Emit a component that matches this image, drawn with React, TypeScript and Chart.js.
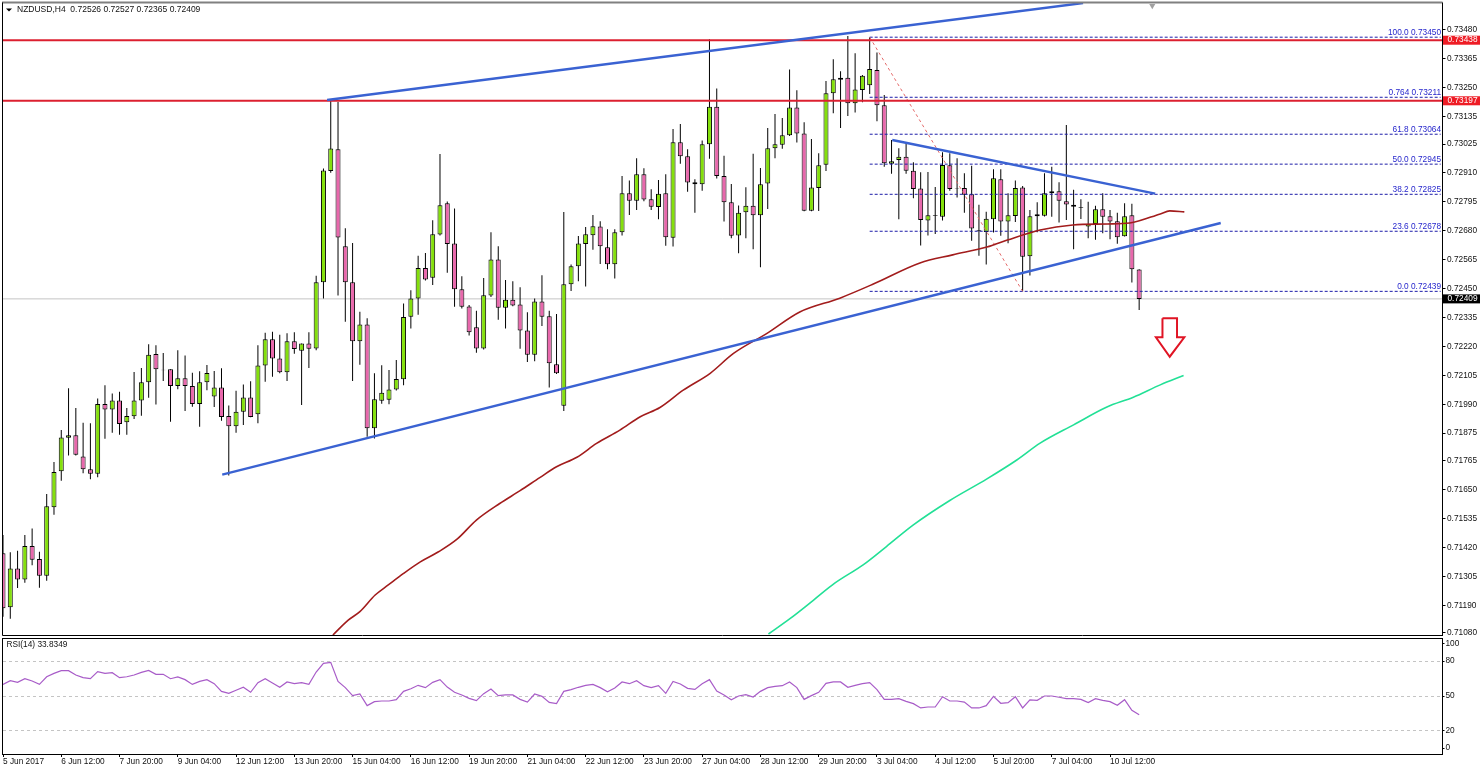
import { useEffect, useRef } from "react";
import { Chart, registerables } from "chart.js";

Chart.register(...registerables);

// prices are kept in points (1/100000), one entry per H4 bar
const opens = [
  71397, 71182, 71337, 71293, 71426, 71374, 71308, 71580, 71723, 71857,
  71867, 71782, 71731, 71713, 71991, 71969, 72005, 71918, 71942, 72005,
  72077, 72190, 72127, 72129, 72062, 72093, 72062, 71991, 72077, 72021,
  72057, 71943, 71902, 71960, 72017, 71950, 72144, 72248, 72172, 72117,
  72240, 72203, 72232, 72212, 72475, 72918, 73004, 72618, 72475, 72240,
  72307, 71894, 72004, 72008, 72049, 72089, 72338, 72411, 72532, 72493,
  72665, 72789, 72629, 72447, 72379, 72296, 72212, 72422, 72566, 72374,
  72406, 72387, 72283, 72187, 72399, 72340, 72149, 71984, 72467, 72539,
  72627, 72662, 72697, 72614, 72547, 72674, 72829, 72799, 72905, 72805,
  72775, 72829, 72652, 73032, 72976, 72873, 72865, 73024, 73173, 72898,
  72793, 72661, 72754, 72779, 72742, 72868, 73008, 73022, 73060, 73170,
  73067, 72760, 72850, 72943, 73227, 73281, 73289, 73187, 73240, 73259,
  73319, 73179, 72947, 72961, 72974, 72919, 72848, 72721, 72742, 72736,
  72941, 72850, 72850, 72825, 72682, 72675, 72726, 72885, 72717, 72739,
  72852, 72579, 72738, 72740, 72829, 72837, 72797, 72783, 72775, 72697,
  72707, 72766, 72738, 72718, 72658, 72742, 72526,
];
const highs = [
  71470, 71401, 71407, 71470, 71496, 71403, 71633, 71760, 71887, 72054,
  71975, 71916, 71914, 72013, 72065, 72033, 72040, 71975, 72118, 72134,
  72229, 72225, 72194, 72129, 72205, 72184, 72115, 72121, 72146, 72122,
  72133, 71985, 72044, 72068, 72081, 72225, 72274, 72278, 72266, 72272,
  72276, 72232, 72276, 72501, 72928, 73198, 73192, 72690, 72631, 72358,
  72332, 72113, 72145, 72126, 72166, 72391, 72443, 72581, 72592, 72722,
  72985, 72796, 72769, 72499, 72385, 72362, 72492, 72674, 72618, 72484,
  72479, 72455, 72356, 72411, 72503, 72362, 72349, 72755, 72546, 72659,
  72695, 72743, 72718, 72686, 72686, 72898, 72880, 72968, 72929, 72845,
  72882, 72905, 73085, 73105, 73004, 72885, 73039, 73442, 73246, 72978,
  72866, 72780, 72853, 72986, 72930, 73089, 73144, 73129, 73321, 73239,
  73112, 73045, 72988, 73276, 73362, 73315, 73455, 73386, 73300, 73450,
  73389, 73220, 73041, 73008, 73028, 72953, 72913, 72914, 72854, 72992,
  72988, 72968, 72909, 72939, 72783, 72756, 72925, 72925, 72829, 72880,
  72858, 72763, 72793, 72909, 72935, 72873, 73101, 72843, 72805, 72795,
  72779, 72829, 72763, 72752, 72789, 72787, 72527,
];
const lows = [
  71145, 71137, 71259, 71280, 71349, 71260, 71288, 71550, 71686, 71786,
  71786, 71715, 71692, 71700, 71853, 71877, 71869, 71869, 71931, 71944,
  72016, 71989, 72082, 71920, 72050, 71963, 71980, 71900, 72046, 71979,
  71924, 71706, 71877, 71907, 71938, 71914, 72079, 72099, 72113, 72082,
  72191, 71987, 72134, 72205, 72411, 72911, 72422, 72318, 72082, 72147,
  71861, 71854, 71992, 71990, 72045, 72065, 72291, 72346, 72482, 72464,
  72661, 72513, 72378, 72371, 72263, 72195, 72208, 72417, 72326, 72291,
  72380, 72211, 72158, 72161, 72301, 72057, 72110, 71963, 72440, 72479,
  72458, 72604, 72548, 72527, 72490, 72661, 72743, 72763, 72797, 72763,
  72726, 72620, 72617, 72947, 72835, 72752, 72839, 72966, 72888, 72717,
  72650, 72591, 72650, 72606, 72535, 72767, 72968, 73006, 73057, 73031,
  72758, 72758, 72759, 72918, 73147, 73089, 73137, 73150, 73191, 73224,
  73116, 72935, 72907, 72726, 72907, 72809, 72621, 72661, 72667, 72721,
  72839, 72812, 72752, 72640, 72581, 72546, 72673, 72660, 72630, 72715,
  72439, 72502, 72674, 72737, 72736, 72713, 72723, 72606, 72727, 72650,
  72644, 72670, 72646, 72628, 72657, 72474, 72365,
];
const closes = [
  71178, 71337, 71293, 71426, 71371, 71308, 71584, 71720, 71858, 71867,
  71789, 71731, 71713, 71991, 71969, 72005, 71911, 71943, 72005, 72077,
  72187, 72129, 72125, 72062, 72093, 72062, 71991, 72077, 72114, 72057,
  71939, 71902, 71960, 72017, 71939, 72144, 72248, 72172, 72117, 72240,
  72210, 72232, 72211, 72475, 72920, 73007, 72653, 72475, 72240, 72307,
  71894, 72010, 72036, 72049, 72090, 72337, 72411, 72532, 72486, 72666,
  72781, 72627, 72447, 72378, 72276, 72212, 72423, 72566, 72374, 72406,
  72383, 72283, 72187, 72399, 72338, 72153, 72113, 72467, 72539, 72629,
  72666, 72698, 72618, 72547, 72674, 72829, 72799, 72905, 72804, 72776,
  72827, 72654, 73032, 72976, 72872, 72865, 73024, 73173, 72898, 72793,
  72660, 72752, 72779, 72742, 72865, 73008, 73024, 73060, 73170, 73067,
  72760, 72852, 72941, 73227, 73283, 73289, 73187, 73242, 73297, 73323,
  73179, 72949, 72957, 72974, 72919, 72846, 72723, 72742, 72739, 72942,
  72846, 72848, 72823, 72689, 72678, 72728, 72889, 72717, 72742, 72850,
  72577, 72738, 72746, 72829, 72837, 72799, 72784, 72776, 72772, 72707,
  72766, 72736, 72717, 72654, 72738, 72527, 72409,
];

const rsiValues = [
  60.0, 63.2, 61.8, 64.9, 62.9, 60.0, 66.6, 69.5, 71.8, 71.8,
  68.1, 65.8, 64.9, 71.0, 69.5, 70.1, 65.8, 66.6, 68.1, 70.4,
  72.1, 68.7, 68.7, 64.9, 66.4, 64.1, 60.0, 62.6, 64.1, 60.6,
  54.0, 52.3, 54.9, 57.5, 53.2, 61.5, 64.9, 61.2, 57.5, 62.1,
  60.6, 61.5, 60.0, 70.7, 78.1, 79.0, 62.6, 57.2, 50.3, 51.7,
  41.7, 45.1, 45.7, 45.7, 46.8, 54.0, 56.3, 59.2, 57.2, 61.8,
  64.1, 57.7, 53.2, 50.9, 48.0, 46.0, 52.0, 56.0, 50.3, 50.9,
  50.9, 47.1, 44.8, 51.7, 49.7, 44.5, 43.4, 54.0, 55.5, 57.5,
  59.2, 60.0, 57.2, 53.7, 56.9, 62.1, 60.6, 63.2, 58.9, 57.2,
  58.9, 52.3, 62.6, 60.3, 56.6, 55.7, 60.6, 64.1, 54.3, 50.9,
  46.8, 50.0, 51.1, 49.1, 54.0, 57.2, 58.3, 58.9, 62.1, 57.2,
  47.1, 50.3, 53.2, 60.9, 62.1, 62.1, 57.5, 59.2, 60.6, 61.5,
  55.5, 47.1, 47.1, 47.7, 45.4, 43.4, 39.7, 40.5, 40.5, 49.4,
  45.7, 45.7, 44.8, 39.7, 39.7, 41.7, 49.7, 43.7, 44.3, 49.4,
  39.7, 46.6, 46.3, 50.0, 50.0, 48.9, 47.7, 47.7, 47.1, 44.3,
  47.7, 46.3, 45.1, 42.0, 46.8, 37.7, 33.83,
];

// moving averages, read as bar position + price
const slowMaBars = [
  45.3, 47.4, 49, 51.1, 52.9, 55, 57.3, 59.8, 62.3, 65, 68.2, 71, 73.7, 76, 78.8, 81.5, 84.7, 87.5,
  90.2, 93.4, 97.1, 100.3, 104.9, 109.4, 114.9, 119.5, 125.9, 130.4, 135.1, 137.9, 142.4, 146.9,
  151.6, 154.7, 158.9, 160.2, 162.2,
];
const slowMaValues = [
  71072, 71131, 71165, 71231, 71271, 71317, 71363, 71403, 71452, 71529, 71595, 71646, 71698, 71741,
  71779, 71834, 71887, 71940, 71977, 72046, 72113, 72192, 72272, 72357, 72412, 72468, 72552, 72584,
  72615, 72643, 72683, 72703, 72707, 72711, 72747, 72759, 72755,
];
const greenMaBars = [105.1, 108.1, 111.3, 114.2, 118.1, 121.3, 125, 130, 135.1, 139.2, 142.4, 147, 151.5, 155.2, 158.9, 162.1];
const greenMaValues = [71076, 71138, 71211, 71278, 71351, 71424, 71510, 71607, 71693, 71768, 71835, 71908, 71978, 72018, 72067, 72104];

const priceTicks = [
  73480, 73365, 73250, 73135, 73025, 72910, 72795, 72680, 72565, 72450, 72335,
  72220, 72105, 71990, 71875, 71765, 71650, 71535, 71420, 71305, 71190, 71080,
];
const timeLabels = [
  "5 Jun 2017", "6 Jun 12:00", "7 Jun 20:00", "9 Jun 04:00", "12 Jun 12:00", "13 Jun 20:00", "15 Jun 04:00",
  "16 Jun 12:00", "19 Jun 20:00", "21 Jun 04:00", "22 Jun 12:00", "23 Jun 20:00", "27 Jun 04:00", "28 Jun 12:00",
  "29 Jun 20:00", "3 Jul 04:00", "4 Jul 12:00", "5 Jul 20:00", "7 Jul 04:00", "10 Jul 12:00",
];
const rsiTicks = [95, 80, 50, 20, 5];
const rsiTickLabels = ["100", "80", "50", "20", "0"];
const rsiLevels = [80, 50, 20];

const fibNames = ["100.0", "0.764", "61.8", "50.0", "38.2", "23.6", "0.0"];
const fibValues = [73450, 73211, 73064, 72945, 72825, 72678, 72439];
const fibBars = [119, 197.4];
const fibSwingBars = [119, 140];
const fibSwingValues = [73450, 72439];

const supportLines = [
  { bars: [44.5, 148.3], values: [73200, 73586] },
  { bars: [30.1, 167.2], values: [71710, 72711] },
  { bars: [122.1, 158.2], values: [73041, 72828] },
];
const redLevels = [73438, 73197];
const bidPrice = 72409;
const arrowBars = [159.2, 161.2, 161.2, 162.2, 160.2, 158.3, 159.2, 159.2];
const arrowValues = [72332, 72332, 72256, 72256, 72179, 72256, 72256, 72332];

const LAST_BAR_X = 197.65;
const FONT = '8.3px "Liberation Sans"';
const TEXT = "#111";

const points = (xs: number[], ys: number[]) => xs.map((x, i) => ({ x, y: ys[i] }));
const fmt = (v: number) => (v / 100000).toFixed(5);

// keep tick label overhang from shrinking the plot area
const noPadding = (s: any) => {
  s.paddingTop = 0;
  s.paddingBottom = 0;
  s.paddingLeft = 0;
  s.paddingRight = 0;
  s._margins = { left: 0, top: 0, right: 0, bottom: 0 };
};

function lineSet(data: any[], color: string, width: number, order: number, dash: number[] = []) {
  return {
    type: "line" as const,
    data,
    borderColor: color,
    borderWidth: width,
    borderDash: dash,
    pointRadius: 0,
    tension: 0,
    fill: false,
    order,
  };
}

const priceOverlay = {
  id: "priceOverlay",
  afterDraw(chart: any) {
    const { ctx, chartArea, scales } = chart;
    const y = scales.y;
    ctx.save();

    // frame
    ctx.strokeStyle = "#808080";
    ctx.lineWidth = 2;
    ctx.beginPath();
    ctx.moveTo(2, 2.5);
    ctx.lineTo(chartArea.right, 2.5);
    ctx.stroke();
    ctx.strokeStyle = "#000";
    ctx.lineWidth = 1;
    ctx.beginPath();
    ctx.moveTo(2.5, 2.5);
    ctx.lineTo(2.5, chartArea.bottom + 0.5);
    ctx.lineTo(chartArea.right, chartArea.bottom + 0.5);
    ctx.moveTo(chartArea.right, 2.5);
    ctx.lineTo(chartArea.right, chartArea.bottom + 0.5);
    ctx.stroke();

    ctx.font = FONT;

    // fibo captions
    ctx.fillStyle = "#2626cc";
    ctx.textAlign = "right";
    ctx.textBaseline = "bottom";
    fibValues.forEach((v, i) => {
      ctx.fillText(`${fibNames[i]} ${fmt(v)}`, 1441, y.getPixelForValue(v) - 0.5);
    });

    // price tags on the axis
    ctx.textAlign = "left";
    ctx.textBaseline = "middle";
    const tag = (v: number, bg: string) => {
      const py = y.getPixelForValue(v);
      ctx.fillStyle = bg;
      ctx.fillRect(chartArea.right + 0.5, py - 4.5, 37, 9);
      ctx.fillStyle = "#fff";
      ctx.fillText(fmt(v), 1447.5, py);
    };
    redLevels.forEach((v) => tag(v, "#ee1c25"));
    tag(bidPrice, "#000");

    // header
    ctx.fillStyle = "#000";
    ctx.beginPath();
    ctx.moveTo(6, 8.5);
    ctx.lineTo(12, 8.5);
    ctx.lineTo(9, 11.5);
    ctx.closePath();
    ctx.fill();
    ctx.fillStyle = TEXT;
    ctx.font = '8.5px "Liberation Sans"';
    ctx.fillText(
      `NZDUSD,H4  ${fmt(opens[156])} ${fmt(highs[156])} ${fmt(lows[156])} ${fmt(closes[156])}`,
      17,
      10,
    );
    ctx.restore();
  },
};

const rsiOverlay = {
  id: "rsiOverlay",
  afterDraw(chart: any) {
    const { ctx, chartArea } = chart;
    ctx.save();
    ctx.strokeStyle = "#000";
    ctx.lineWidth = 1;
    ctx.strokeRect(2.5, chartArea.top + 0.5, chartArea.right - 2.5, chartArea.bottom - chartArea.top);
    ctx.font = FONT;
    ctx.fillStyle = TEXT;
    ctx.textBaseline = "middle";
    ctx.fillText(`RSI(14) ${(33.8349).toFixed(4)}`, 6.5, 8);
    ctx.restore();
  },
};

function PriceChart() {
  const chartRef = useRef<HTMLCanvasElement>(null);

  useEffect(() => {
    if (!chartRef.current) return;
    const bars = opens.map((_, i) => i);
    const bodyColors = bars.map((i) => (closes[i] >= opens[i] ? "#84e00c" : "#e868ac"));

    const chart = new Chart(chartRef.current, {
      type: "bar",
      data: {
        datasets: [
          lineSet(points([0, LAST_BAR_X], [bidPrice, bidPrice]), "#c4c4c4", 1, 12),
          {
            type: "bar",
            data: bars.map((i) => ({ x: i, y: [lows[i], highs[i]] })),
            backgroundColor: "#000",
            barThickness: 1,
            grouped: false,
            inflateAmount: 0,
            borderWidth: 0,
            order: 11,
          },
          {
            type: "bar",
            data: bars.map((i) => ({ x: i, y: [opens[i], closes[i]] })),
            backgroundColor: bodyColors,
            borderColor: "#000",
            borderWidth: 1,
            borderSkipped: false,
            barThickness: 5,
            grouped: false,
            inflateAmount: 0,
            order: 10,
          },
          ...fibValues.map((v) => lineSet(points(fibBars, [v, v]), "#1c1ca8", 1, 8, [3, 2])),
          lineSet(points(fibSwingBars, fibSwingValues), "#e46a6a", 1, 7, [3, 3]),
          ...redLevels.map((v) => lineSet(points([0, LAST_BAR_X], [v, v]), "#dc2030", 2, 6)),
          { ...lineSet(points(slowMaBars, slowMaValues), "#a21c1c", 1.6, 5), cubicInterpolationMode: "monotone" },
          { ...lineSet(points(greenMaBars, greenMaValues), "#22e096", 1.6, 5), cubicInterpolationMode: "monotone" },
          ...supportLines.map((l) => lineSet(points(l.bars, l.values), "#3a62d2", 2.4, 4)),
          lineSet(points(arrowBars, arrowValues), "#e01424", 2, 3),
          {
            type: "scatter",
            data: [{ x: 157.8, y: 73575 }],
            pointStyle: "triangle",
            rotation: 180,
            pointRadius: 3.5,
            backgroundColor: "#a0a0a0",
            borderWidth: 0,
            order: 2,
          },
        ],
      } as any,
      options: {
        responsive: false,
        animation: false,
        layout: { autoPadding: false, padding: { left: 3, top: 3, bottom: 2, right: 0 } },
        plugins: { legend: { display: false }, tooltip: { enabled: false } },
        scales: {
          x: { type: "linear", display: false, min: 0, max: LAST_BAR_X, offset: false, grid: { offset: false } },
          y: {
            type: "linear",
            position: "right",
            min: 71072,
            max: 73586,
            beginAtZero: false,
            afterFit: (s: any) => {
              s.width = 37.5;
              noPadding(s);
            },
            afterBuildTicks: (s: any) => {
              s.ticks = priceTicks.map((value) => ({ value }));
            },
            grid: { drawOnChartArea: false, tickLength: 3, tickColor: "#000" },
            border: { color: "#000" },
            ticks: {
              autoSkip: false,
              padding: 1.5,
              color: TEXT,
              font: { family: "Liberation Sans", size: 8.3 },
              callback: (v: any) => fmt(Number(v)),
            },
          },
        },
      },
      plugins: [priceOverlay],
    } as any);

    return () => {
      chart.destroy();
    };
  }, []);

  return <canvas ref={chartRef} width={1480} height={637} style={{ position: "absolute", left: 0, top: 0 }} />;
}

function RsiChart() {
  const chartRef = useRef<HTMLCanvasElement>(null);

  useEffect(() => {
    if (!chartRef.current) return;

    const chart = new Chart(chartRef.current, {
      type: "line",
      data: {
        datasets: [
          {
            data: rsiValues.map((v, i) => ({ x: i, y: v })),
            borderColor: "#a85cc8",
            borderWidth: 1.2,
            pointRadius: 0,
            tension: 0,
          },
        ],
      },
      options: {
        responsive: false,
        animation: false,
        layout: { autoPadding: false, padding: { left: 3, top: 1, bottom: 0, right: 0 } },
        plugins: { legend: { display: false }, tooltip: { enabled: false } },
        scales: {
          x: {
            type: "linear",
            min: 0,
            max: LAST_BAR_X,
            afterFit: (s: any) => {
              s.height = 18;
              noPadding(s);
            },
            afterBuildTicks: (s: any) => {
              s.ticks = timeLabels.map((_, i) => ({ value: i * 8 }));
            },
            grid: { drawOnChartArea: false, tickLength: 3, tickColor: "#000" },
            border: { color: "#000" },
            ticks: {
              autoSkip: false,
              maxRotation: 0,
              align: "start",
              padding: 0,
              color: TEXT,
              font: { family: "Liberation Sans", size: 8.3 },
              callback: (v: any) => timeLabels[Number(v) / 8],
            },
          },
          y: {
            type: "linear",
            position: "right",
            min: 0,
            max: 100,
            afterFit: (s: any) => {
              s.width = 37.5;
              noPadding(s);
            },
            afterBuildTicks: (s: any) => {
              s.ticks = rsiTicks.map((value) => ({ value }));
            },
            grid: {
              tickLength: 2,
              tickColor: "#000",
              color: (c: any) => (rsiLevels.includes(c.tick?.value) ? "#c4c4c4" : "transparent"),
            },
            border: { color: "#000", dash: [3, 3] },
            ticks: {
              autoSkip: false,
              padding: 1,
              color: TEXT,
              font: { family: "Liberation Sans", size: 8.3 },
              callback: (v: any) => rsiTickLabels[rsiTicks.indexOf(Number(v))],
            },
          },
        },
      },
      plugins: [rsiOverlay],
    } as any);

    return () => {
      chart.destroy();
    };
  }, []);

  return <canvas ref={chartRef} width={1480} height={135} style={{ position: "absolute", left: 0, top: 637 }} />;
}

export default function App() {
  return (
    <div style={{ position: "absolute", left: 0, top: 0, width: 1480, height: 772, background: "#fff", overflow: "hidden" }}>
      <PriceChart />
      <RsiChart />
    </div>
  );
}
